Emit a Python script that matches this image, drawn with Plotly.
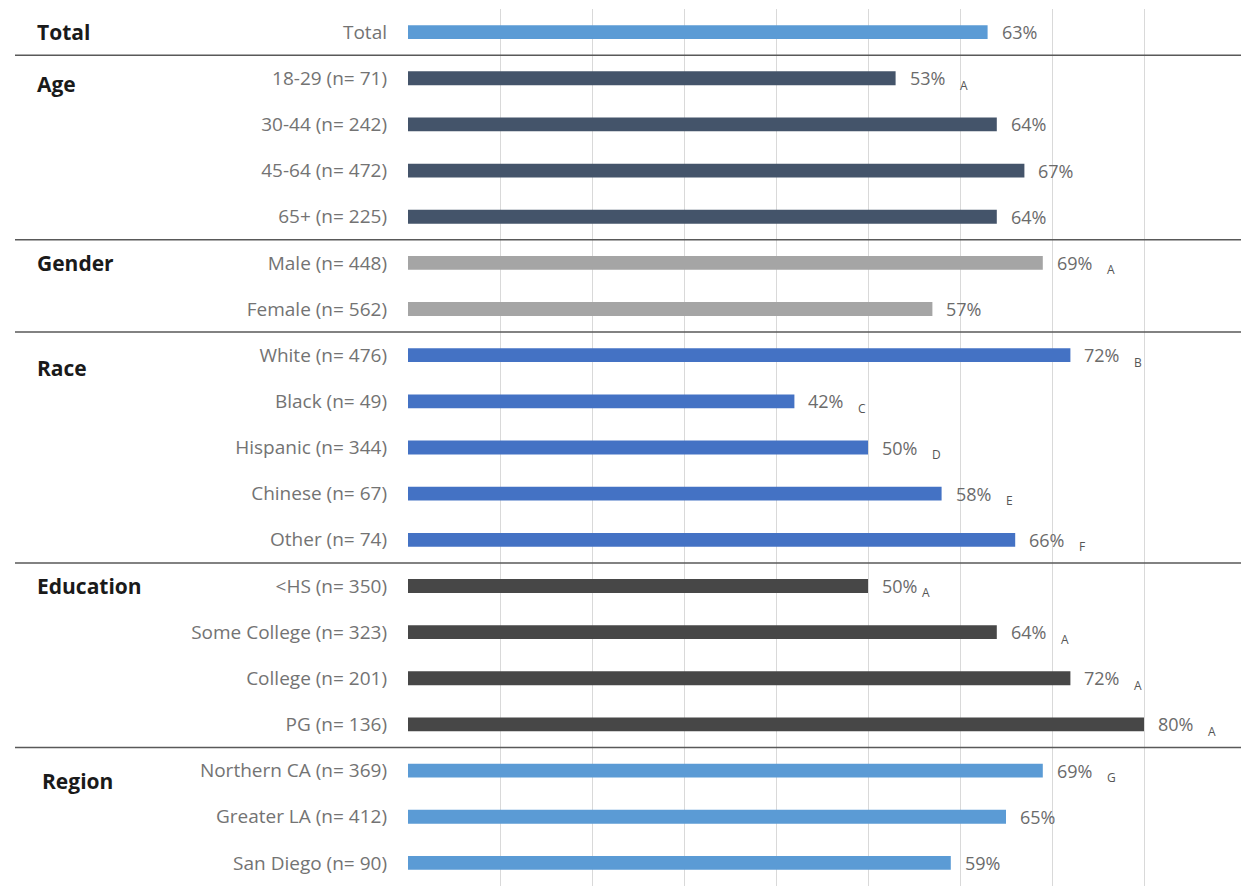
import plotly.graph_objects as go

categories = ["Total",
              "18-29 (n= 71)", "30-44 (n= 242)", "45-64 (n= 472)", "65+ (n= 225)",
              "Male (n= 448)", "Female (n= 562)",
              "White (n= 476)", "Black (n= 49)", "Hispanic (n= 344)", "Chinese (n= 67)", "Other (n= 74)",
              "<HS (n= 350)", "Some College (n= 323)", "College (n= 201)", "PG (n= 136)",
              "Northern CA (n= 369)", "Greater LA (n= 412)", "San Diego (n= 90)"]
values = [63, 53, 64, 67, 64, 69, 57, 72, 42, 50, 58, 66, 50, 64, 72, 80, 69, 65, 59]
letters = ["", "A", "", "", "", "A", "", "B", "C", "D", "E", "F", "A", "A", "A", "A", "G", "", ""]
groups = ["Total", "Age", "Age", "Age", "Age", "Gender", "Gender",
          "Race", "Race", "Race", "Race", "Race",
          "Education", "Education", "Education", "Education",
          "Region", "Region", "Region"]
group_headers = ["Total", "Age", "Gender", "Race", "Education", "Region"]
header_anchor = ["Total", "18-29 (n= 71)", "Male (n= 448)", "White (n= 476)", "<HS (n= 350)", "Northern CA (n= 369)"]
header_shift = [0, -6, 0, -13, 0, -10]
header_x = [35, 35, 35, 35, 35, 40]
group_colors = {"Total": "#5B9BD5", "Age": "#44546A", "Gender": "#A5A5A5",
                "Race": "#4472C4", "Education": "#474747", "Region": "#5B9BD5"}

FONT = "Open Sans"
W, H = 1241, 886
ML, MR, MT, MB = 408, 5, 9, 0
PW = W - ML - MR

fig = go.Figure()
fig.add_trace(go.Bar(
    x=values, y=list(range(len(categories))), orientation="h", width=0.3,
    marker=dict(color=[group_colors[g] for g in groups], line=dict(width=0)),
    hoverinfo="skip", showlegend=False))

annotations = []
for i, (v, l) in enumerate(zip(values, letters)):
    annotations.append(dict(x=v, y=i, xref="x", yref="y", xanchor="left", yanchor="middle",
                            text=f"{v}%", showarrow=False, xshift=12,
                            font=dict(family=FONT, size=18, color="#6b6b6b")))
    if l:
        gap = 3 if categories[i].startswith("<HS") else 13
        annotations.append(dict(x=v, y=i, xref="x", yref="y", xanchor="left", yanchor="middle",
                                text=l, showarrow=False, xshift=12 + 37 + gap, yshift=-7,
                                font=dict(family=FONT, size=12, color="#555555")))

for h, a, s, hx in zip(group_headers, header_anchor, header_shift, header_x):
    annotations.append(dict(x=-(ML - hx) / PW, y=categories.index(a), xref="paper", yref="y",
                            xanchor="left", yanchor="middle", text=f"<b>{h}</b>", showarrow=False,
                            yshift=s, font=dict(family=FONT, size=21, color="#1a1a1a")))

shapes = []
prev = groups[0]
for i, g in enumerate(groups):
    if g != prev:
        shapes.append(dict(type="line", xref="paper", yref="y",
                           x0=-(ML - 15) / PW, x1=(W - ML) / PW, y0=i - 0.5, y1=i - 0.5,
                           line=dict(color="#595959", width=1.5)))
    prev = g

fig.update_layout(
    width=W, height=H, margin=dict(l=ML, r=MR, t=MT, b=MB),
    paper_bgcolor="white", plot_bgcolor="white",
    xaxis=dict(range=[0, 90], dtick=10, showgrid=True, gridcolor="#D9D9D9", gridwidth=1,
               showticklabels=False, zeroline=False, showline=False, fixedrange=True),
    yaxis=dict(range=[len(categories) - 0.5, -0.5], tickmode="array",
               tickvals=list(range(len(categories))), ticktext=categories,
               ticklabelstandoff=20, ticks="", showgrid=False, zeroline=False, automargin=False,
               tickfont=dict(family=FONT, size=19, color="#737373")),
    annotations=annotations, shapes=shapes,
)
fig.write_html("out.html", config={"displayModeBar": False},
               post_script="document.body.style.margin='0';document.body.style.overflow='hidden';")
